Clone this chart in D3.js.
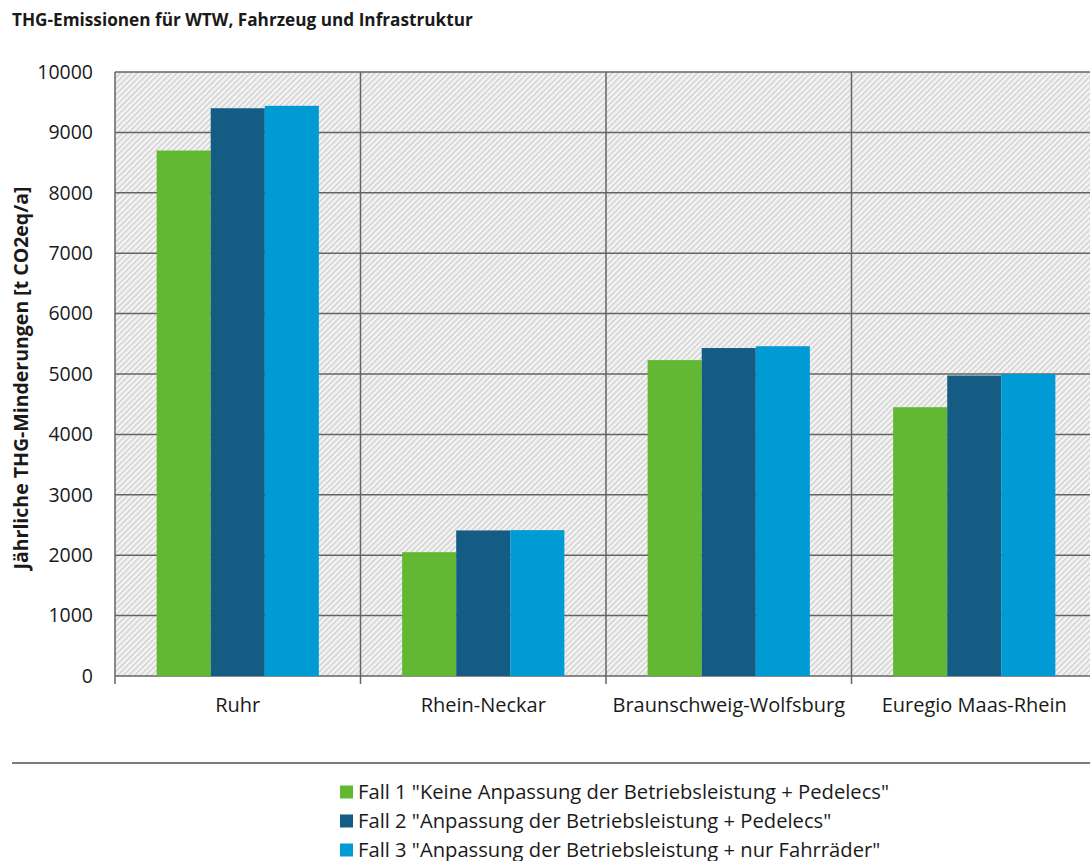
<!DOCTYPE html>
<html>
<head>
<meta charset="utf-8">
<script src="https://cdn.jsdelivr.net/npm/d3@7"></script>
<style>
  html, body { margin: 0; padding: 0; background: #ffffff; }
  svg { display: block; font-family: "Open Sans", Lato, sans-serif; }
</style>
</head>
<body>
<svg id="chart" width="1090" height="861"></svg>
<script>
// Regions and annual GHG reductions per scenario [t CO2eq/a]
const regions = ["Ruhr", "Rhein-Neckar", "Braunschweig-Wolfsburg", "Euregio Maas-Rhein"];
const seriesNames = [
  "Fall 1 \"Keine Anpassung der Betriebsleistung + Pedelecs\"",
  "Fall 2 \"Anpassung der Betriebsleistung + Pedelecs\"",
  "Fall 3 \"Anpassung der Betriebsleistung + nur Fahrräder\""
];
const fall1 = [8700, 2050, 5230, 4450];
const fall2 = [9400, 2410, 5430, 4975];
const fall3 = [9440, 2415, 5460, 5000];
const seriesColors = ["#62b832", "#155c85", "#009bd5"];
const yTicks = [0, 1000, 2000, 3000, 4000, 5000, 6000, 7000, 8000, 9000, 10000];

const title = "THG-Emissionen für WTW, Fahrzeug und Infrastruktur";
const yTitle = "Jährliche THG-Minderungen [t CO2eq/a]";

const seriesValues = [fall1, fall2, fall3];
const rows = regions.map((r, i) => ({
  region: r,
  values: seriesValues.map((s, k) => ({ key: k, value: s[i] }))
}));

const svg = d3.select("#chart");
const plot = { left: 115, right: 1097, top: 72, bottom: 676 };
const textColor = "#1a1a1a";

// Diagonal hatch used as plot background
const defs = svg.append("defs");
const pat = defs.append("pattern")
  .attr("id", "hatch")
  .attr("patternUnits", "userSpaceOnUse")
  .attr("width", 4).attr("height", 4)
  .attr("patternTransform", "rotate(45)");
pat.append("rect").attr("width", 4).attr("height", 4).attr("fill", "#f4f4f4");
pat.append("rect").attr("x", 0).attr("y", 0).attr("width", 1.4).attr("height", 4).attr("fill", "#cfcfcf");

const x0 = d3.scaleBand().domain(regions).range([plot.left, plot.right]).paddingInner(0).paddingOuter(0);
const x1 = d3.scaleBand().domain([0, 1, 2]).range([0, x0.bandwidth()]).paddingInner(0).paddingOuter(0.77);
const y = d3.scaleLinear().domain([0, 10000]).range([plot.bottom, plot.top]);

svg.append("rect")
  .attr("x", plot.left).attr("y", plot.top)
  .attr("width", plot.right - plot.left).attr("height", plot.bottom - plot.top)
  .attr("fill", "url(#hatch)");

// Horizontal gridlines
svg.append("g").selectAll("line").data(yTicks).join("line")
  .attr("x1", plot.left).attr("x2", plot.right)
  .attr("y1", d => y(d)).attr("y2", d => y(d))
  .attr("stroke", "#646464").attr("stroke-width", 1.5);

// Vertical gridlines at category boundaries
const bounds = regions.map(r => x0(r)).concat([plot.right]);
svg.append("g").selectAll("line").data(bounds).join("line")
  .attr("x1", d => d).attr("x2", d => d)
  .attr("y1", plot.top).attr("y2", plot.bottom + 8)
  .attr("stroke", "#646464").attr("stroke-width", 1.5);

// Bars
const groups = svg.append("g").selectAll("g").data(rows).join("g")
  .attr("transform", d => `translate(${x0(d.region)},0)`);
groups.selectAll("rect").data(d => d.values).join("rect")
  .attr("x", d => x1(d.key))
  .attr("width", x1.bandwidth())
  .attr("y", d => y(d.value))
  .attr("height", d => y(0) - y(d.value))
  .attr("fill", d => seriesColors[d.key]);

// Y axis labels
const yAxis = d3.axisLeft(y).tickValues(yTicks).tickSize(0).tickPadding(22).tickFormat(d3.format("d"));
const gy = svg.append("g").attr("transform", `translate(${plot.left},0)`).call(yAxis);
gy.select(".domain").remove();
gy.selectAll("text").attr("font-size", 19.5).attr("fill", textColor).attr("font-family", "'Open Sans', sans-serif");

// Category labels
const xAxis = d3.axisBottom(x0).tickSize(0).tickPadding(22);
const gx = svg.append("g").attr("transform", `translate(0,${plot.bottom})`).call(xAxis);
gx.select(".domain").remove();
gx.selectAll("text").attr("font-size", 20).attr("fill", textColor).attr("font-family", "'Open Sans', sans-serif");

// Titles
svg.append("text")
  .attr("x", 12).attr("y", 26)
  .attr("font-size", 17.2).attr("font-weight", "bold").attr("fill", textColor)
  .text(title);

svg.append("text")
  .attr("transform", `translate(28,378) rotate(-90)`)
  .attr("text-anchor", "middle")
  .attr("font-size", 19.5).attr("font-weight", "bold").attr("fill", textColor)
  .text(yTitle);

// Separator above legend
svg.append("line")
  .attr("x1", 12).attr("x2", 1090)
  .attr("y1", 763).attr("y2", 763)
  .attr("stroke", "#7a7a7a").attr("stroke-width", 2);

// Legend
const legend = svg.append("g").attr("transform", "translate(340,792)");
const items = legend.selectAll("g").data(seriesNames).join("g")
  .attr("transform", (d, i) => `translate(0,${i * 29})`);
items.append("rect")
  .attr("x", 0).attr("y", -6.5).attr("width", 13).attr("height", 13)
  .attr("fill", (d, i) => seriesColors[i]);
items.append("text")
  .attr("x", 18).attr("y", 0).attr("dy", "0.36em")
  .attr("font-size", 20.2).attr("fill", textColor)
  .text(d => d);
</script>
</body>
</html>
